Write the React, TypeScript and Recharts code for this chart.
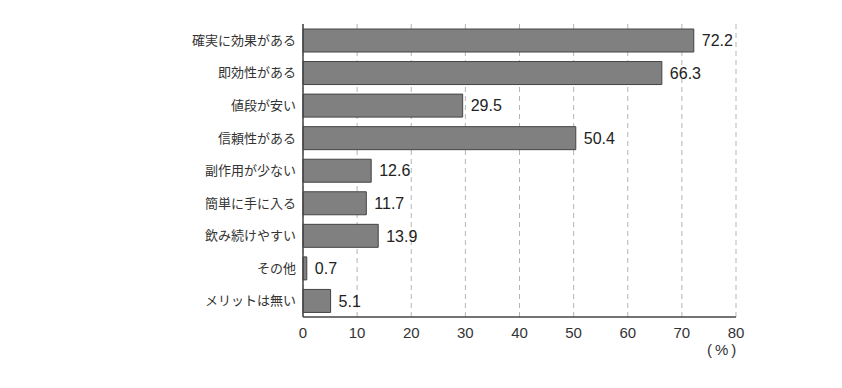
import React from "react";
import { BarChart, Bar, XAxis, YAxis, CartesianGrid, LabelList } from "recharts";

const categories = [
  "確実に効果がある",
  "即効性がある",
  "値段が安い",
  "信頼性がある",
  "副作用が少ない",
  "簡単に手に入る",
  "飲み続けやすい",
  "その他",
  "メリットは無い",
];
const values = [72.2, 66.3, 29.5, 50.4, 12.6, 11.7, 13.9, 0.7, 5.1];
const xTicks = [0, 10, 20, 30, 40, 50, 60, 70, 80];

const FONT = "'Liberation Sans', 'Noto Sans CJK JP', sans-serif";

const data = categories.map((name, i) => ({ name, value: values[i] }));

const App: React.FC = () => {
  return (
    <div style={{ position: "absolute", left: 0, top: 0, width: 842, height: 388, background: "#fff", fontFamily: FONT }}>
      <BarChart
        width={842}
        height={388}
        data={data}
        layout="vertical"
        margin={{ top: 24, right: 106, bottom: 41, left: 0 }}
        barSize={23}
      >
        <CartesianGrid horizontal={false} vertical stroke="#b5b5b5" strokeDasharray="5 4" />
        <XAxis
          type="number"
          domain={[0, 80]}
          ticks={xTicks}
          tickLine={false}
          tickMargin={4}
          height={30}
          axisLine={{ stroke: "#444", strokeWidth: 1.5 }}
          tick={{ fill: "#333", fontSize: 15, fontFamily: FONT }}
        />
        <YAxis
          type="category"
          dataKey="name"
          width={303}
          tickLine={false}
          tickSize={0}
          tickMargin={7}
          axisLine={{ stroke: "#444", strokeWidth: 1.5 }}
          tick={{ fill: "#333", fontSize: 13, fontFamily: FONT }}
        />
        <Bar dataKey="value" fill="#808080" stroke="#444" strokeWidth={1} isAnimationActive={false}>
          <LabelList
            dataKey="value"
            position="right"
            offset={8}
            fill="#222"
            fontSize={16}
            fontFamily={FONT}
            formatter={(v: unknown) => Number(v).toFixed(1)}
          />
        </Bar>
      </BarChart>
      <div
        style={{
          position: "absolute",
          left: 707,
          top: 341,
          fontSize: 15,
          letterSpacing: 3,
          color: "#333",
          fontFamily: FONT,
        }}
      >
        (%)
      </div>
    </div>
  );
};

export default App;
